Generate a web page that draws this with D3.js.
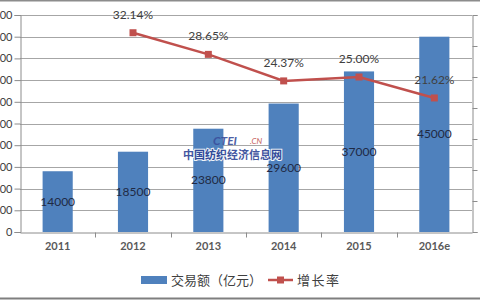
<!DOCTYPE html>
<html>
<head>
<meta charset="utf-8">
<script src="https://cdn.jsdelivr.net/npm/d3@7"></script>
<style>
  body { margin: 0; background: #fff; }
  svg text { font-family: Lato, "Noto Sans", sans-serif; }
  .cjk { font-family: "Noto Sans CJK SC", sans-serif; }
</style>
</head>
<body>
<div id="chart"></div>
<script>
// chart data
let years = ["2011", "2012", "2013", "2014", "2015", "2016e"]
let volume = [14000, 18500, 23800, 29600, 37000, 45000]
let growth = [null, 32.14, 28.65, 24.37, 25.00, 21.62]
let growthLabels = ["", "32.14%", "28.65%", "24.37%", "25.00%", "21.62%"]
let leftTicks = [0, 5000, 10000, 15000, 20000, 25000, 30000, 35000, 40000, 45000, 50000]
let rightTicks = [0, 5, 10, 15, 20, 25, 30, 35]

let W = 480, H = 300
let svg = d3.select("#chart").append("svg")
    .attr("width", W)
    .attr("height", H)

let x = d3.scaleBand().domain(years).range([20, 472]).paddingInner(0.6).paddingOuter(0.3)
let xb = d3.scaleBand().domain(years).range([20, 472])
let y = d3.scaleLinear().domain([0, 50000]).range([232, 15])
let y2 = d3.scaleLinear().domain([0, 35]).range([232, 15])

// frame lines top/bottom
svg.append("line").attr("x1", 0).attr("x2", W).attr("y1", 0.5).attr("y2", 0.5)
    .attr("stroke", "#8c8c8c").attr("stroke-width", 2)
svg.append("line").attr("x1", 0).attr("x2", W).attr("y1", 298.5).attr("y2", 298.5)
    .attr("stroke", "#7f7f7f").attr("stroke-width", 2)

// gridlines
svg.selectAll("line.grid")
    .data(leftTicks.slice(1))
    .enter()
    .append("line")
    .attr("class", "grid")
    .attr("x1", 20).attr("x2", 472)
    .attr("y1", d => Math.round(y(d)) + 0.5)
    .attr("y2", d => Math.round(y(d)) + 0.5)
    .attr("stroke", "#a6a6a6")

// left axis
let leftAxis = d3.axisLeft(y).tickValues(leftTicks).tickSize(6).tickPadding(2)
let gl = svg.append("g").attr("transform", "translate(20.5,0)").call(leftAxis)
gl.select(".domain").attr("stroke", "#8c8c8c")
gl.selectAll(".tick line").attr("stroke", "#8c8c8c")
gl.selectAll(".tick text").attr("fill", "#404040").style("font-size", "11px")

// right axis (labels fall past the edge, as in the cropped original)
let rightAxis = d3.axisRight(y2).tickValues(rightTicks).tickSize(5).tickPadding(4).tickFormat(d => d + "%")
let gr = svg.append("g").attr("transform", "translate(472.5,0)").call(rightAxis)
gr.select(".domain").attr("stroke", "#8c8c8c")
gr.selectAll(".tick line").attr("stroke", "#8c8c8c")
gr.selectAll(".tick text").attr("fill", "#404040").style("font-size", "11px")

// bottom axis
let bottomAxis = d3.axisBottom(xb).tickSize(0).tickPadding(10)
let gb = svg.append("g").attr("transform", "translate(0,232.5)").call(bottomAxis)
gb.select(".domain").attr("stroke", "#8c8c8c")
gb.selectAll(".tick text").attr("fill", "#595959").style("font-size", "11px").style("font-weight", "bold")
gb.selectAll("line.sep")
    .data(years.slice(1))
    .enter()
    .append("line")
    .attr("class", "sep")
    .attr("x1", d => Math.round(xb(d)) + 0.5)
    .attr("x2", d => Math.round(xb(d)) + 0.5)
    .attr("y1", 0).attr("y2", 5)
    .attr("stroke", "#8c8c8c")

// bars
svg.selectAll("rect.bar")
    .data(volume)
    .enter()
    .append("rect")
    .attr("class", "bar")
    .attr("x", (d, i) => x(years[i]))
    .attr("width", x.bandwidth())
    .attr("y", d => y(d))
    .attr("height", d => y(0) - y(d))
    .attr("fill", "#4f81bd")

// watermark logo
let wm = svg.append("g").attr("opacity", 0.9)
wm.append("text")
    .attr("x", 213).attr("y", 145)
    .style("font-size", "12px").style("font-style", "italic").style("font-weight", "bold")
    .attr("fill", "#3b4f9c")
    .text("CTEI")
wm.append("text")
    .attr("x", 250).attr("y", 144)
    .style("font-size", "8px").style("font-style", "italic")
    .attr("fill", "#c0504d")
    .text(".CN")
wm.append("text")
    .attr("class", "cjk")
    .attr("x", 183).attr("y", 159)
    .style("font-size", "11px").style("font-weight", "bold")
    .attr("fill", "#2e4596")
    .attr("stroke", "#ffffff").attr("stroke-width", 2).attr("paint-order", "stroke")
    .text("中国纺织经济信息网")

// bar value labels
svg.selectAll("text.barLabel")
    .data(volume)
    .enter()
    .append("text")
    .attr("class", "barLabel")
    .attr("x", (d, i) => x(years[i]) + x.bandwidth() / 2)
    .attr("y", d => (y(d) + y(0)) / 2 + 4)
    .attr("text-anchor", "middle")
    .attr("fill", "#1f2a44")
    .style("font-size", "12px")
    .text(d => d)

// growth line
let pts = growth.map((g, i) => ({year: years[i], g: g, label: growthLabels[i]})).filter(d => d.g !== null)
let line = d3.line()
    .x(d => xb(d.year) + xb.bandwidth() / 2)
    .y(d => y2(d.g))
svg.append("path")
    .datum(pts)
    .attr("d", line)
    .attr("fill", "none")
    .attr("stroke", "#c0504d")
    .attr("stroke-width", 2.5)

svg.selectAll("rect.marker")
    .data(pts)
    .enter()
    .append("rect")
    .attr("class", "marker")
    .attr("x", d => xb(d.year) + xb.bandwidth() / 2 - 3.5)
    .attr("y", d => y2(d.g) - 3.5)
    .attr("width", 7).attr("height", 7)
    .attr("fill", "#c0504d")

svg.selectAll("text.growthLabel")
    .data(pts)
    .enter()
    .append("text")
    .attr("class", "growthLabel")
    .attr("x", d => xb(d.year) + xb.bandwidth() / 2)
    .attr("y", d => y2(d.g) - 14)
    .attr("text-anchor", "middle")
    .attr("fill", "#404040")
    .style("font-size", "12px")
    .text(d => d.label)

// legend
let lg = svg.append("g")
lg.append("rect").attr("x", 141).attr("y", 276).attr("width", 26).attr("height", 8).attr("fill", "#4f81bd")
lg.append("text").attr("class", "cjk").attr("x", 171).attr("y", 285)
    .style("font-size", "13px").attr("fill", "#404040").text("交易额（亿元）")
lg.append("line").attr("x1", 268).attr("x2", 293).attr("y1", 280).attr("y2", 280)
    .attr("stroke", "#c0504d").attr("stroke-width", 2.5)
lg.append("rect").attr("x", 277).attr("y", 276.5).attr("width", 7).attr("height", 7).attr("fill", "#c0504d")
lg.append("text").attr("class", "cjk").attr("x", 297).attr("y", 285)
    .style("font-size", "13px").style("letter-spacing", "1.5px").attr("fill", "#404040").text("增长率")
</script>
</body>
</html>
